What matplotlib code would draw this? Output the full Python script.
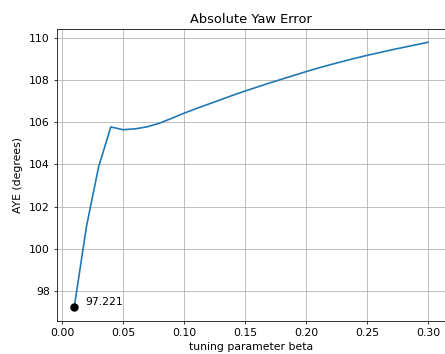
import matplotlib
matplotlib.use("Agg")
import matplotlib.pyplot as plt

beta = [0.01, 0.02, 0.03, 0.04, 0.05, 0.06, 0.07, 0.08, 0.09, 0.10,
        0.11, 0.12, 0.13, 0.14, 0.15, 0.16, 0.17, 0.18, 0.19, 0.20,
        0.21, 0.22, 0.23, 0.24, 0.25, 0.26, 0.27, 0.28, 0.29, 0.30]
aye = [97.221, 101.04, 103.88, 105.77, 105.64, 105.68, 105.78, 105.95, 106.18, 106.42,
       106.64, 106.85, 107.06, 107.27, 107.47, 107.66, 107.85, 108.03, 108.21, 108.39,
       108.56, 108.72, 108.87, 109.02, 109.16, 109.29, 109.42, 109.54, 109.66, 109.78]

s = 0.7   # scale of lines
t = 0.78  # scale of text

fig = plt.figure(figsize=(4.45, 3.54), dpi=100)
ax = fig.add_axes([0.127, 0.094, 0.8746, 0.824])

ax.plot(beta, aye, color='#1f77b4', lw=1.7 * s)
ax.plot(beta[0], aye[0], 'o', color='black', ms=6 * s * 1.2)
ax.annotate(f"{aye[0]:.3f}", (beta[0], aye[0]), xytext=(8, 0), textcoords='offset points',
            fontsize=10 * t, va='bottom')

ax.set_title("Absolute Yaw Error", fontsize=12 * t, pad=6 * s)
ax.set_xlabel("tuning parameter beta", fontsize=10 * t, labelpad=5 * s)
ax.set_ylabel("AYE (degrees)", fontsize=10 * t, labelpad=6 * s)
ax.tick_params(labelsize=10 * t, length=3.5 * s, width=0.8 * s, pad=3.5 * s)
for sp in ax.spines.values():
    sp.set_linewidth(0.8 * s)
ax.grid(True, lw=0.8 * s)

fig.savefig("out.png", dpi=100)
